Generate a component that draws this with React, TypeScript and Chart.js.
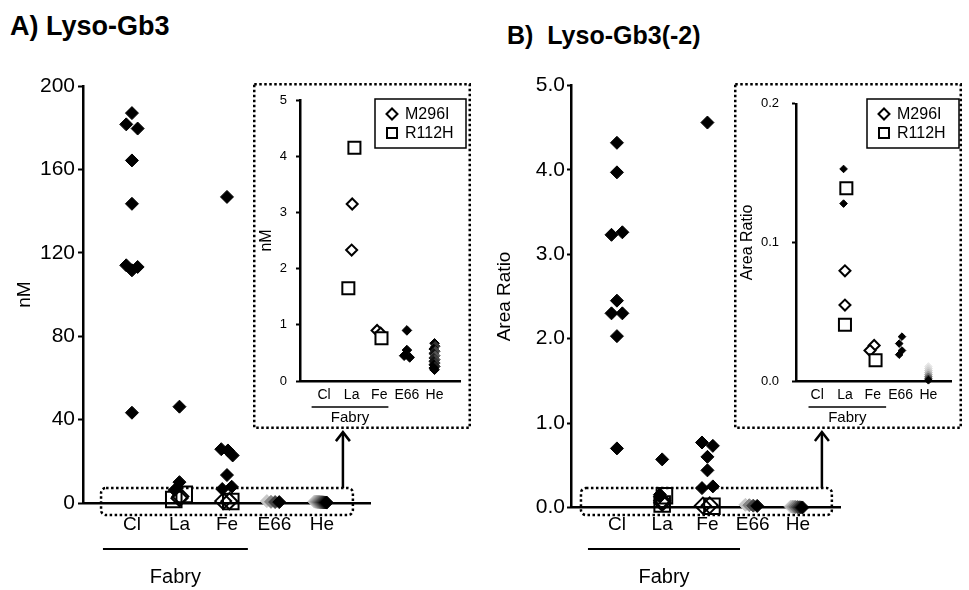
import React, { useEffect, useRef } from 'react';
import { Chart, registerables } from 'chart.js';

Chart.register(...registerables);

const FONT = "'Liberation Sans', Arial, Helvetica, sans-serif";

const CATEGORIES = ['Cl', 'La', 'Fe', 'E66', 'He'];
const GROUP_LABEL = 'Fabry';
const LEGEND_LABELS = ['M296I', 'R112H'];

const A_TITLE = 'A) Lyso-Gb3';
const B_TITLE = 'B)  Lyso-Gb3(-2)';
const A_Y_TITLE = 'nM';
const B_Y_TITLE = 'Area Ratio';

const A_MAIN_TICKS = [0, 40, 80, 120, 160, 200];
const A_INSET_TICKS = [0, 1, 2, 3, 4, 5];
const B_MAIN_TICKS = [0, 1, 2, 3, 4, 5];
const B_INSET_TICKS = [0, 0.1, 0.2];

// ---- Panel A: Lyso-Gb3 (nM) ----
const A_CL = [187, 181.6, 179.6, 164.3, 143.5, 114, 113.2, 111.6, 43.3];
const A_LA = [46.2, 10, 6.2];
const A_FE = [146.8, 25.8, 25.2, 22.8, 13.4, 7.8, 6.7];
const A_E66 = [0.9, 0.55, 0.45, 0.42];
const A_HE = [0.67, 0.62, 0.57, 0.53, 0.49, 0.45, 0.41, 0.38, 0.35, 0.32, 0.29, 0.26, 0.23, 0.2];
const A_M296I_LA = [3.15, 2.33];
const A_M296I_FE = [0.9, 0.85];
const A_R112H_LA = [4.15, 1.65];
const A_R112H_FE = [0.76];

// ---- Panel B: Lyso-Gb3(-2) (area ratio) ----
const B_CL = [4.32, 3.97, 3.23, 3.26, 2.45, 2.3, 2.3, 2.03, 0.7];
const B_LA = [0.57, 0.153, 0.128];
const B_FE = [4.56, 0.77, 0.73, 0.6, 0.44, 0.23, 0.25];
const B_E66 = [0.032, 0.027, 0.022, 0.019];
const B_HE = [0.0105, 0.009, 0.0075, 0.006, 0.0045, 0.003, 0.0015, 0.0005];
const B_M296I_LA = [0.0795, 0.0548];
const B_M296I_FE = [0.0256, 0.022];
const B_R112H_LA = [0.139, 0.0406];
const B_R112H_FE = [0.015];

// horizontal jitter inside a category column (fraction of category width)
const A_JIT_CL = [0, -0.12, 0.12, 0, 0, -0.12, 0.12, 0, 0];
const A_JIT_LA = [0, 0, -0.1];
const A_JIT_FE = [0, -0.12, 0.02, 0.12, 0, 0.1, -0.1];
const A_JIT_E66 = [0, 0, -0.1, 0.1];
const A_JIT_HE = [0, 0.03, -0.03, 0.03, -0.03, 0.03, -0.03, 0.03, -0.03, 0.03, -0.03, 0.03, -0.03, 0];
const A_JIT_M296I_LA = [0.02, 0];
const A_JIT_M296I_FE = [-0.08, 0.05];
const A_JIT_R112H_LA = [0.1, -0.12];
const A_JIT_R112H_FE = [0.08];

const B_JIT_CL = [0, 0, -0.12, 0.12, 0, -0.12, 0.12, 0, 0];
const B_JIT_LA = [0, -0.05, -0.05];
const B_JIT_FE = [0, -0.12, 0.12, 0, 0, -0.12, 0.12];
const B_JIT_E66 = [0.05, -0.05, 0.05, -0.05];
const B_JIT_HE = [0, 0, 0, 0, 0, 0, 0, 0];
const B_JIT_M296I_LA = [0, 0];
const B_JIT_M296I_FE = [0.05, -0.1];
const B_JIT_R112H_LA = [0.05, 0];
const B_JIT_R112H_FE = [0.1];

type Spec = {
  kind: 'main' | 'inset';
  left: number; top: number; width: number; height: number;
  yW: number; xH: number; padTop: number; padRight: number;
  xMin: number; xMax: number; yMin: number; yMax: number;
  yTicks: number[]; yFmt: (v: number) => string;
  yTitle: string; yTitleSize: number; yTitlePad: number;
  tickSize: number; tickLen: number; tickPad: number;
  catSize: number; catPad: number;
  fabry: [number, number, number, number]; fabrySize: number;
  axisW: number;
  rPatient: number; rDiamond: number; rSquare: number;
  patients: number[][]; patientJit: number[][];
  m296i: number[][]; m296iJit: number[][];
  r112h: number[][]; r112hJit: number[][];
  heColors?: string[];
  box?: [number, number, number, number];
  arrow?: [number, number];
  legend?: [number, number, number, number];
};

const A_SERIES = {
  patients: [A_CL, A_LA, A_FE, A_E66, A_HE],
  patientJit: [A_JIT_CL, A_JIT_LA, A_JIT_FE, A_JIT_E66, A_JIT_HE],
  m296i: [[], A_M296I_LA, A_M296I_FE, [], []],
  m296iJit: [[], A_JIT_M296I_LA, A_JIT_M296I_FE, [], []],
  r112h: [[], A_R112H_LA, A_R112H_FE, [], []],
  r112hJit: [[], A_JIT_R112H_LA, A_JIT_R112H_FE, [], []],
};
const B_SERIES = {
  patients: [B_CL, B_LA, B_FE, B_E66, B_HE],
  patientJit: [B_JIT_CL, B_JIT_LA, B_JIT_FE, B_JIT_E66, B_JIT_HE],
  m296i: [[], B_M296I_LA, B_M296I_FE, [], []],
  m296iJit: [[], B_JIT_M296I_LA, B_JIT_M296I_FE, [], []],
  r112h: [[], B_R112H_LA, B_R112H_FE, [], []],
  r112hJit: [[], B_JIT_R112H_LA, B_JIT_R112H_FE, [], []],
};

const intFmt = (v: number) => String(Math.round(v));
const dec1 = (v: number) => v.toFixed(1);

const SPECS: Spec[] = [
  {
    kind: 'main', left: 0, top: 70, width: 480, height: 520,
    yW: 83, xH: 87, padTop: 16, padRight: 110,
    xMin: -0.03, xMax: 6.01, yMin: 0, yMax: 200, yTicks: A_MAIN_TICKS, yFmt: intFmt,
    yTitle: A_Y_TITLE, yTitleSize: 19, yTitlePad: 13,
    tickSize: 21, tickLen: 5, tickPad: 3, catSize: 19, catPad: 10,
    fabry: [0.39, 3.44, 46, 74], fabrySize: 20, axisW: 2.5,
    rPatient: 6.5, rDiamond: 8, rSquare: 11,
    ...A_SERIES,
    box: [0.35, 5.65, 7.2, -5.8], arrow: [5.44, 34],
  },
  {
    kind: 'inset', left: 253, top: 83, width: 218, height: 346,
    yW: 47, xH: 48, padTop: 17, padRight: 4,
    xMin: 0.13, xMax: 5.94, yMin: 0, yMax: 5, yTicks: A_INSET_TICKS, yFmt: intFmt,
    yTitle: A_Y_TITLE, yTitleSize: 16, yTitlePad: 4.4,
    tickSize: 13, tickLen: 4, tickPad: 9, catSize: 14, catPad: 6,
    fabry: [0.55, 3.33, 26, 37], fabrySize: 15, axisW: 2.5,
    rPatient: 4.8, rDiamond: 5.5, rSquare: 8.5,
    ...A_SERIES,
    heColors: ['#000', '#333', '#000', '#444', '#111', '#555', '#222', '#444', '#111', '#333', '#000', '#222', '#000', '#000'],
    legend: [122, 16, 91, 49],
  },
  {
    kind: 'main', left: 480, top: 70, width: 489, height: 520,
    yW: 91, xH: 82.5, padTop: 15.4, padRight: 129,
    xMin: -0.015, xMax: 5.93, yMin: 0, yMax: 5, yTicks: B_MAIN_TICKS, yFmt: dec1,
    yTitle: B_Y_TITLE, yTitleSize: 19, yTitlePad: 13,
    tickSize: 21, tickLen: 4, tickPad: 2, catSize: 19, catPad: 6,
    fabry: [0.36, 3.72, 41.5, 69.5], fabrySize: 20, axisW: 2.5,
    rPatient: 6.5, rDiamond: 8, rSquare: 11,
    ...B_SERIES,
    box: [0.205, 5.75, 0.23, -0.089], arrow: [5.53, 0.895],
  },
  {
    kind: 'inset', left: 734, top: 83, width: 228, height: 346,
    yW: 62, xH: 48, padTop: 17, padRight: 4,
    xMin: 0.24, xMax: 5.83, yMin: 0, yMax: 0.2, yTicks: B_INSET_TICKS, yFmt: dec1,
    yTitle: B_Y_TITLE, yTitleSize: 16, yTitlePad: 4.4,
    tickSize: 13, tickLen: 4, tickPad: 13, catSize: 14, catPad: 6,
    fabry: [0.69, 3.48, 26, 37], fabrySize: 15, axisW: 2.5,
    rPatient: 3.8, rDiamond: 5.5, rSquare: 8.5,
    ...B_SERIES,
    heColors: ['#e8e8e8', '#dcdcdc', '#cfcfcf', '#bdbdbd', '#9a9a9a', '#6a6a6a', '#2a2a2a', '#000'],
    legend: [133, 16, 92, 49],
  },
];

function greyRamp(n: number): string[] {
  const out: string[] = [];
  for (let i = 0; i < n; i++) {
    const g = n > 1 ? Math.round(200 * (1 - i / (n - 1))) : 0;
    out.push(`rgb(${g},${g},${g})`);
  }
  return out;
}

function buildDatasets(s: Spec) {
  const main = s.kind === 'main';
  const keep = (v: number) => main || (v >= s.yMin && v <= s.yMax);
  const openFill = main ? 'rgba(0,0,0,0)' : '#ffffff';
  const pts = (vals: number[][], jit: number[][]) => {
    const out: { x: number; y: number }[] = [];
    vals.forEach((arr, c) => arr.forEach((v, i) => {
      if (keep(v)) out.push({ x: c + 1 + (jit[c][i] ?? 0), y: v });
    }));
    return out;
  };
  const sets: any[] = [];
  sets.push({
    label: LEGEND_LABELS[1], data: pts(s.r112h, s.r112hJit), pointStyle: 'rect',
    pointRadius: s.rSquare, pointBackgroundColor: openFill, pointBorderColor: '#000',
    pointBorderWidth: 2, clip: false,
  });
  sets.push({
    label: LEGEND_LABELS[0], data: pts(s.m296i, s.m296iJit), pointStyle: 'rectRot',
    pointRadius: s.rDiamond, pointBackgroundColor: openFill, pointBorderColor: '#000',
    pointBorderWidth: 2, clip: false,
  });
  s.patients.forEach((arr, c) => {
    const data: { x: number; y: number }[] = [];
    const colors: string[] = [];
    const fan = main && c >= 3;
    const ramp = greyRamp(arr.length);
    arr.forEach((v, i) => {
      if (!keep(v)) return;
      let dx = s.patientJit[c][i] ?? 0;
      let col = '#000';
      if (fan) {
        dx = arr.length > 1 ? -0.16 + (0.26 * i) / (arr.length - 1) : 0;
        col = ramp[i];
      } else if (c === 4 && s.heColors) {
        col = s.heColors[i] ?? '#000';
      }
      data.push({ x: c + 1 + dx, y: v });
      colors.push(col);
    });
    sets.push({
      label: 'patients-' + CATEGORIES[c], data, pointStyle: 'rectRot', pointRadius: s.rPatient,
      pointBackgroundColor: colors, pointBorderColor: colors, pointBorderWidth: 1, clip: false,
    });
  });
  return sets;
}

function drawDiamond(ctx: CanvasRenderingContext2D, x: number, y: number, r: number) {
  ctx.beginPath();
  ctx.moveTo(x - r, y); ctx.lineTo(x, y - r); ctx.lineTo(x + r, y); ctx.lineTo(x, y + r);
  ctx.closePath();
}

function decoPlugin(s: Spec) {
  return {
    id: 'deco',
    beforeDraw(chart: any) {
      if (s.kind === 'inset') {
        const c = chart.ctx;
        c.save();
        c.fillStyle = '#fff';
        c.fillRect(0, 0, chart.width, chart.height);
        c.restore();
      }
    },
    afterDraw(chart: any) {
      const ctx: CanvasRenderingContext2D = chart.ctx;
      const x = chart.scales.x;
      const y = chart.scales.y;
      const area = chart.chartArea;
      ctx.save();
      ctx.strokeStyle = '#000';
      ctx.fillStyle = '#000';
      // group line + label
      const [f0, f1, dLine, dLabel] = s.fabry;
      ctx.lineWidth = s.kind === 'main' ? 2 : 1.5;
      ctx.beginPath();
      ctx.moveTo(x.getPixelForValue(f0), area.bottom + dLine);
      ctx.lineTo(x.getPixelForValue(f1), area.bottom + dLine);
      ctx.stroke();
      ctx.font = `${s.fabrySize}px ${FONT}`;
      ctx.textAlign = 'center';
      ctx.textBaseline = 'middle';
      ctx.fillText(GROUP_LABEL, x.getPixelForValue((f0 + f1) / 2), area.bottom + dLabel);

      if (s.box) {
        const [bx0, bx1, by0, by1] = s.box;
        const px0 = x.getPixelForValue(bx0), px1 = x.getPixelForValue(bx1);
        const py0 = y.getPixelForValue(by0), py1 = y.getPixelForValue(by1);
        ctx.lineWidth = 2.5;
        ctx.setLineDash([2.5, 2.5]);
        ctx.beginPath();
        const rr = 5;
        const w = px1 - px0, h = py1 - py0;
        (ctx as any).roundRect ? (ctx as any).roundRect(px0, py0, w, h, rr) : ctx.rect(px0, py0, w, h);
        ctx.stroke();
        ctx.setLineDash([]);
      }
      if (s.arrow && s.box) {
        const ax = x.getPixelForValue(s.arrow[0]);
        const yBottom = y.getPixelForValue(s.box[2]);
        const yTop = y.getPixelForValue(s.arrow[1]);
        ctx.lineWidth = 2.5;
        ctx.beginPath();
        ctx.moveTo(ax, yBottom);
        ctx.lineTo(ax, yTop + 1);
        ctx.stroke();
        ctx.beginPath();
        ctx.moveTo(ax - 7, yTop + 9);
        ctx.lineTo(ax, yTop);
        ctx.lineTo(ax + 7, yTop + 9);
        ctx.stroke();
      }
      if (s.legend) {
        const [lx, ly, lw, lh] = s.legend;
        ctx.lineWidth = 1.5;
        ctx.fillStyle = '#fff';
        ctx.fillRect(lx, ly, lw, lh);
        ctx.strokeRect(lx, ly, lw, lh);
        ctx.fillStyle = '#000';
        ctx.font = `16px ${FONT}`;
        ctx.textAlign = 'left';
        ctx.textBaseline = 'middle';
        const mx = lx + 17;
        const r1 = ly + 15, r2 = ly + 34;
        ctx.lineWidth = 2;
        drawDiamond(ctx, mx, r1, 5.5);
        ctx.stroke();
        ctx.strokeRect(mx - 5, r2 - 5, 10, 10);
        ctx.fillText(LEGEND_LABELS[0], lx + 30, r1 + 1);
        ctx.fillText(LEGEND_LABELS[1], lx + 30, r2 + 1);
      }
      if (s.kind === 'inset') {
        ctx.lineWidth = 2.5;
        ctx.setLineDash([2.5, 2.5]);
        ctx.strokeRect(1.25, 1.25, chart.width - 2.5, chart.height - 2.5);
        ctx.setLineDash([]);
      }
      ctx.restore();
    },
  };
}

function makeConfig(s: Spec): any {
  return {
    type: 'scatter',
    data: { datasets: buildDatasets(s) },
    options: {
      responsive: false,
      animation: false,
      events: [],
      layout: { padding: { left: 0, right: s.padRight, top: s.padTop, bottom: 0 } },
      plugins: { legend: { display: false }, tooltip: { enabled: false }, title: { display: false } },
      scales: {
        x: {
          type: 'linear', min: s.xMin, max: s.xMax,
          afterBuildTicks: (sc: any) => { sc.ticks = CATEGORIES.map((_, i) => ({ value: i + 1 })); },
          afterFit: (sc: any) => { sc.height = s.xH; },
          grid: { display: false, drawTicks: false },
          border: { display: true, color: '#000', width: s.axisW },
          ticks: {
            color: '#000', font: { family: FONT, size: s.catSize }, padding: s.catPad,
            autoSkip: false, maxRotation: 0, minRotation: 0,
            callback: (v: number) => CATEGORIES[Math.round(v) - 1] ?? '',
          },
        },
        y: {
          type: 'linear', min: s.yMin, max: s.yMax,
          afterBuildTicks: (sc: any) => { sc.ticks = s.yTicks.map((v) => ({ value: v })); },
          afterFit: (sc: any) => { sc.width = s.yW; },
          grid: {
            display: true, drawOnChartArea: false, drawTicks: true,
            tickLength: s.tickLen, tickWidth: 2, tickColor: '#000', color: '#000',
          },
          border: { display: true, color: '#000', width: s.axisW },
          ticks: {
            color: '#000', font: { family: FONT, size: s.tickSize }, padding: s.tickPad,
            callback: (v: number) => s.yFmt(v),
          },
          title: {
            display: true, text: s.yTitle, color: '#000',
            font: { family: FONT, size: s.yTitleSize }, padding: { top: s.yTitlePad, bottom: 0 },
          },
        },
      },
    },
    plugins: [decoPlugin(s)],
  };
}

export default function App() {
  const refs = useRef<(HTMLCanvasElement | null)[]>([]);
  useEffect(() => {
    const charts = SPECS.map((s, i) => new Chart(refs.current[i] as HTMLCanvasElement, makeConfig(s)));
    return () => charts.forEach((c) => c.destroy());
  }, []);
  const titleStyle: React.CSSProperties = {
    position: 'absolute', fontFamily: FONT, fontWeight: 'bold', whiteSpace: 'pre', color: '#000',
  };
  return (
    <div style={{ position: 'fixed', left: 0, top: 0, width: 969, height: 590, background: '#fff', overflow: 'hidden' }}>
      <div style={{ ...titleStyle, left: 10, top: 11, fontSize: 27, lineHeight: '31px' }}>{A_TITLE}</div>
      <div style={{ ...titleStyle, left: 507, top: 21, fontSize: 25, lineHeight: '29px' }}>{B_TITLE}</div>
      {SPECS.map((s, i) => (
        <canvas
          key={i}
          ref={(el) => { refs.current[i] = el; }}
          width={s.width}
          height={s.height}
          style={{ position: 'absolute', left: s.left, top: s.top, width: s.width, height: s.height, zIndex: s.kind === 'inset' ? 2 : 1 }}
        />
      ))}
    </div>
  );
}
